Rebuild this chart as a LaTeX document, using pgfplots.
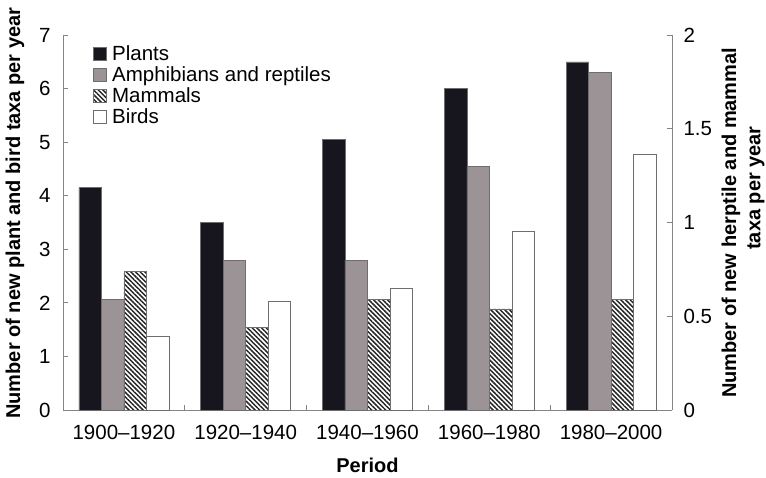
\documentclass[border=0pt]{standalone}
\usepackage{fontspec}
\setmainfont{Liberation Sans}
\usepackage{pgfplots}
\pgfplotsset{compat=1.18}
\usetikzlibrary{patterns.meta}
\definecolor{plantc}{HTML}{17161F}
\definecolor{ampc}{HTML}{9B9396}
\definecolor{edgec}{HTML}{6E6E6E}
\definecolor{axc}{HTML}{858585}
\newcommand{\tfont}{\fontsize{20.5}{23}\selectfont}
\newcommand{\lfont}{\fontsize{20}{24}\selectfont\bfseries}
\pgfplotsset{
  common/.style={
    width=609pt, height=375pt, scale only axis,
    xmin=0.5, xmax=5.5, ymin=0, clip=false,
    ybar, bar width=0.185,
    tick label style={font=\tfont},
    /pgf/number format/assume math mode=true,
    axis line style={axc, line width=0.8pt},
    tick style={axc, line width=0.8pt},
    major tick length=5pt, minor tick length=5pt,
    tick align=inside,
  },
  plantsty/.style={fill=plantc, draw=edgec, line width=0.5pt},
  ampsty/.style={fill=ampc, draw=edgec, line width=0.5pt},
  mamsty/.style={pattern={Lines[angle=-45,distance=3.3pt,line width=1.5pt]}, pattern color=black!85, draw=edgec, line width=0.5pt},
  birdsty/.style={fill=white, draw=edgec, line width=0.6pt},
}
\begin{document}
\begin{tikzpicture}
% left axis: plants and birds
\begin{axis}[common,
  ymax=7, ytick={0,1,...,7},
  yticklabel style={xshift=-9pt},
  xticklabel style={yshift=-12pt},
  axis x line*=bottom, axis y line*=left,
  xtick={1,2,3,4,5},
  xticklabels={1900–1920,1920–1940,1940–1960,1960–1980,1980–2000},
  major x tick style={draw=none},
  minor xtick={1.5,2.5,3.5,4.5},
  xlabel={Period},
  xlabel style={font=\lfont, at={(rel axis cs:0.5,-0.1467)}, anchor=center},
  ylabel={Number of new plant and bird taxa per year},
  ylabel style={font=\lfont, at={(rel axis cs:-0.0788,0.525)}, anchor=center, rotate=0},
]
\addplot[plantsty, bar shift=-0.2775] coordinates {(1,4.15) (2,3.5) (3,5.05) (4,6.0) (5,6.5)};
\addplot[birdsty, bar shift=0.2775] coordinates {(1,1.38) (2,2.02) (3,2.28) (4,3.34) (5,4.77)};
\end{axis}
% right axis: amphibians/reptiles and mammals
\begin{axis}[common,
  ymax=2, ytick={0,0.5,1,1.5,2},
  yticklabel style={xshift=8pt},
  axis y line*=right, axis x line=none,
  ylabel={Number of new herptile and mammal},
  ylabel style={font=\lfont, at={(rel axis cs:1.097,0.499)}, anchor=center, rotate=0},
  legend image code/.code={\draw[#1] (0pt,-5.5pt) rectangle (13pt,7.5pt); \path (18pt,0pt);},
  legend style={at={(rel axis cs:0.049,0.975)}, anchor=north west, draw=none, fill=none,
    font=\tfont, inner sep=0pt, row sep=0pt, nodes={inner sep=0.5pt, text height=15pt, text depth=5pt}},
  legend cell align=left,
]
\addlegendimage{plantsty}
\addlegendentry{Plants}
\addplot[ampsty, bar shift=-0.0925] coordinates {(1,0.59) (2,0.80) (3,0.80) (4,1.30) (5,1.80)};
\addlegendentry{Amphibians and reptiles}
\addplot[mamsty, bar shift=0.0925] coordinates {(1,0.74) (2,0.44) (3,0.59) (4,0.54) (5,0.59)};
\addlegendentry{Mammals}
\addlegendimage{birdsty}
\addlegendentry{Birds}
\node[font=\lfont, rotate=90] at (rel axis cs:1.138,0.592) {taxa per year};
\end{axis}
\pgfresetboundingbox
\path[use as bounding box] (-63pt,-67pt) rectangle (703pt,410pt);
\end{tikzpicture}
\end{document}
